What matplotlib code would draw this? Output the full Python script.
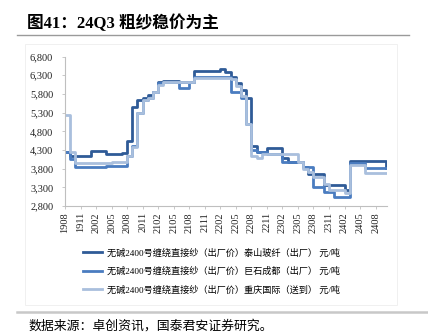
import matplotlib
matplotlib.use("Agg")
import matplotlib.pyplot as plt
from matplotlib.lines import Line2D
import numpy as np

# monthly data, 2019-08 .. 2024-10
tick_labels = ["1908", "1911", "2002", "2005", "2008", "2011", "2102", "2105", "2108",
               "2111", "2202", "2205", "2208", "2211", "2302", "2305", "2308", "2311",
               "2402", "2405", "2408"]

taishan = [4250, 4150, 4150, 4150, 4150, 4280, 4280, 4280, 4200, 4200, 4200, 4220,
           4550, 5450, 5650, 5680, 5770, 5860, 6120, 6150, 6150, 6150, 6130, 6130,
           6130, 6410, 6410, 6410, 6410, 6410, 6480, 6400, 6260, 6080, 5900, 5700,
           4400, 4250, 4250, 4350, 4350, 4350, 4080, 3990, 3990, 3990, 3850, 3650,
           3650, 3650, 3360, 3360, 3360, 3360, 3230, 4000, 4000, 4000, 4000, 4000,
           4000, 4000, 3810]

jushi = [4250, 4050, 3850, 3850, 3850, 3850, 3850, 3850, 3870, 3870, 3870, 3870,
         4130, 4400, 5300, 5650, 5700, 5850, 6100, 6130, 6130, 6130, 5950, 5950,
         6130, 6250, 6250, 6250, 6250, 6250, 6250, 6250, 5860, 5860, 5700, 5000,
         4300, 4250, 4250, 4200, 4200, 4200, 3990, 3990, 3990, 3990, 3850, 3850,
         3320, 3320, 3180, 3180, 3050, 3050, 3050, 3940, 3940, 3940, 3810, 3810,
         3810, 3810, 3810]

chongqing = [5230, 4250, 3950, 3950, 3950, 3950, 3950, 3950, 3950, 3980, 3980, 3980,
             4150, 4380, 5300, 5650, 5700, 5850, 6050, 6120, 6120, 6120, 6120, 6120,
             6120, 6220, 6220, 6220, 6220, 6220, 6220, 6220, 6200, 6000, 5750, 5000,
             4150, 4075, 4180, 4180, 4180, 4180, 4180, 4180, 4180, 3990, 3800, 3700,
             3580, 3580, 3400, 3230, 3230, 3230, 3150, 3910, 3910, 3910, 3674, 3674,
             3674, 3674, 3674]

labels = ["无碱2400号缠绕直接纱（出厂价）泰山玻纤（出厂） 元/吨",
          "无碱2400号缠绕直接纱（出厂价）巨石成都（出厂） 元/吨",
          "无碱2400号缠绕直接纱（出厂价）重庆国际（送到） 元/吨"]
colors = ["#2F5B97", "#4A7CC0", "#A9BFDD"]

fonts = ["Liberation Serif", "Noto Sans CJK SC", "DejaVu Sans"]
plt.rcParams["font.family"] = fonts

W, H = 428, 334
fig = plt.figure(figsize=(W / 100, H / 100), dpi=100)

# faint chart frame
fig.patches.append(plt.Rectangle((25 / W, 1 - 305 / H), (397 - 25) / W, (305 - 44) / H,
                                 transform=fig.transFigure, fill=False,
                                 edgecolor="#EEEEEE", lw=0.6))

fig.text(27 / W, 1 - 23 / H, "图41：24Q3 粗纱稳价为主", fontsize=12,
         fontweight="bold", va="center", ha="left")
fig.add_artist(Line2D([17 / W, 409 / W], [1 - 35 / H, 1 - 35 / H],
                      color="#9A9A9A", lw=1.0))
fig.add_artist(Line2D([17 / W, 1.0], [1 - 312 / H, 1 - 312 / H],
                      color="#C8C8C8", lw=1.8))
fig.text(28 / W, 1 - 326 / H, "数据来源：卓创资讯，国泰君安证券研究。", fontsize=9.3,
         va="center", ha="left")

ax = fig.add_axes([65 / W, 1 - 206 / H, (387 - 65) / W, (206 - 56.6) / H])
x = np.arange(len(taishan))
for vals, c, lab in zip([taishan, jushi, chongqing], colors, labels):
    ax.plot(x, vals, drawstyle="steps-post", color=c, lw=2.0, label=lab)

ax.set_xlim(0, 62.2)
ax.set_ylim(2800, 6800)
ax.set_yticks(np.arange(2800, 6801, 500))
ax.set_yticklabels([f"{v:,}" for v in range(2800, 6801, 500)], fontsize=7.5)
ax.set_xticks(np.arange(0, 61, 3))
ax.set_xticklabels(tick_labels, rotation=90, fontsize=7.5)
for s in ["top", "right"]:
    ax.spines[s].set_visible(False)
for s in ["left", "bottom"]:
    ax.spines[s].set_color("#BFBFBF")
    ax.spines[s].set_linewidth(0.8)
ax.tick_params(axis="both", colors="#BFBFBF", length=2.5, width=0.6,
               labelcolor="#222222")
ax.tick_params(axis="x", pad=2)
ax.tick_params(axis="y", pad=6)
ax.patch.set_visible(False)

leg = fig.legend(loc="upper left", bbox_to_anchor=(83 / W, 1 - 248 / H),
                 frameon=False, fontsize=6.6, handlelength=2.1, handletextpad=0.5,
                 labelspacing=1.0, borderpad=0, borderaxespad=0)

fig.savefig("out.png", dpi=100)
